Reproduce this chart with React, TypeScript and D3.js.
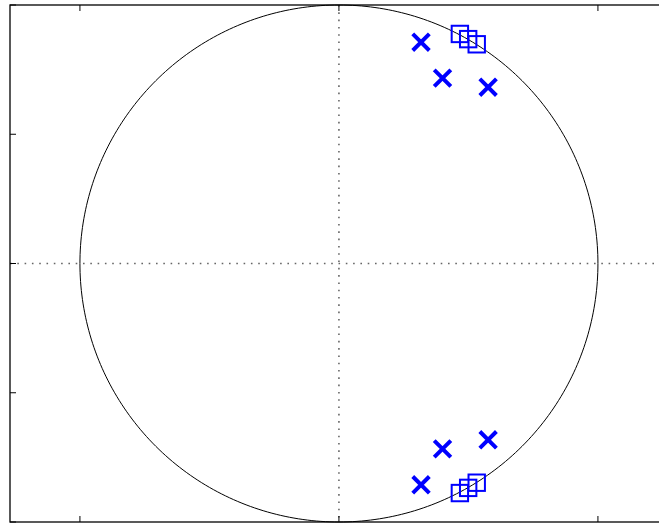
import React from "react";
import * as d3 from "d3";

const zerosRe = [0.467, 0.499, 0.532];
const zerosIm = [0.888, 0.868, 0.848];
const polesRe = [0.317, 0.4, 0.576];
const polesIm = [0.856, 0.717, 0.682];
const xTicks = [-1, 0, 1];
const yTicks = [-1, -0.5, 0, 0.5, 1];

const W = 659;
const H = 523;
const left = 10;
const top = 5;
const bottom = 522;

export default function App() {
  const x = d3.scaleLinear().domain([-1.27, 1.27]).range([left, left + 2.54 * 259]);
  const y = d3.scaleLinear().domain([-1, 1]).range([bottom, top]);
  const right = x(1.27);

  const circlePts: [number, number][] = d3.range(0, 361, 1).map((d) => {
    const t = (d * Math.PI) / 180;
    return [Math.cos(t), Math.sin(t)];
  });
  const line = d3
    .line<[number, number]>()
    .x((d) => x(d[0]))
    .y((d) => y(d[1]));

  const zeros = zerosRe.flatMap((r, i) => [
    [r, zerosIm[i]],
    [r, -zerosIm[i]],
  ]);
  const poles = polesRe.flatMap((r, i) => [
    [r, polesIm[i]],
    [r, -polesIm[i]],
  ]);

  const ms = 8.2;
  const xs = 8.3;
  const tick = 6;

  return (
    <svg
      width={W}
      height={H}
      style={{ position: "absolute", left: 0, top: 0, background: "#fff" }}
    >
      <rect x={0} y={0} width={W} height={H} fill="#fff" />
      {/* dotted axes lines */}
      <line
        x1={x(0)}
        x2={x(0)}
        y1={top}
        y2={bottom}
        stroke="#666"
        strokeWidth={1.6}
        strokeDasharray="1.6 5.7"
      />
      <line
        x1={left}
        x2={right}
        y1={y(0)}
        y2={y(0)}
        stroke="#666"
        strokeWidth={1.6}
        strokeDasharray="1.6 5.7"
      />
      {/* unit circle */}
      <path d={line(circlePts) || ""} fill="none" stroke="#000" strokeWidth={1} />
      {/* zeros */}
      {zeros.map((p, i) => (
        <rect
          key={"z" + i}
          x={x(p[0]) - ms}
          y={y(p[1]) - ms}
          width={2 * ms}
          height={2 * ms}
          fill="none"
          stroke="#0000ff"
          strokeWidth={2}
        />
      ))}
      {/* poles */}
      {poles.map((p, i) => {
        const cx = x(p[0]);
        const cy = y(p[1]);
        return (
          <path
            key={"p" + i}
            d={`M${cx - xs},${cy - xs}L${cx + xs},${cy + xs}M${cx - xs},${cy + xs}L${cx + xs},${cy - xs}`}
            stroke="#0000ff"
            strokeWidth={4}
            fill="none"
          />
        );
      })}
      {/* ticks */}
      {xTicks.map((t) => (
        <g key={"xt" + t}>
          <line x1={x(t)} x2={x(t)} y1={bottom} y2={bottom - tick} stroke="#000" strokeWidth={1} />
          <line x1={x(t)} x2={x(t)} y1={top} y2={top + tick} stroke="#000" strokeWidth={1} />
        </g>
      ))}
      {yTicks.map((t) => (
        <g key={"yt" + t}>
          <line x1={left} x2={left + tick} y1={y(t)} y2={y(t)} stroke="#000" strokeWidth={1} />
          <line x1={right} x2={right - tick} y1={y(t)} y2={y(t)} stroke="#000" strokeWidth={1} />
        </g>
      ))}
      {/* frame */}
      <rect
        x={left}
        y={top}
        width={right - left}
        height={bottom - top}
        fill="none"
        stroke="#000"
        strokeWidth={1.3}
      />
    </svg>
  );
}
